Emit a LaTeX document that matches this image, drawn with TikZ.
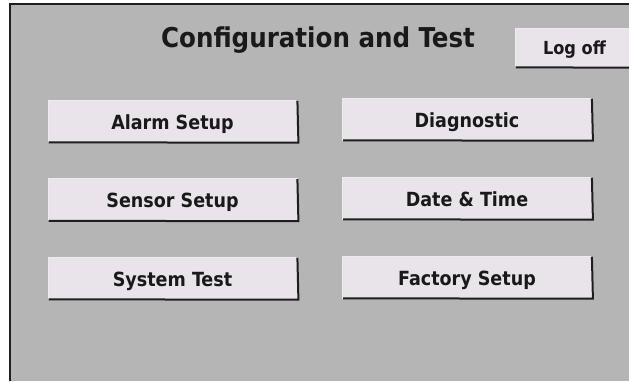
\documentclass[tikz,border=0pt]{standalone}
\usepackage{fontspec}
\setmainfont{DejaVu Sans Condensed}
\definecolor{panel}{RGB}{181,181,181}
\definecolor{btn}{RGB}{232,228,234}
\definecolor{frame}{RGB}{30,30,30}
\definecolor{shadow}{RGB}{30,30,30}
\tikzset{
  uibtn/.style={draw=white!85!gray, line width=0.8pt, fill=btn, minimum width=249pt, minimum height=42pt,
    inner sep=0pt, text height=16pt, text depth=0pt, font=\fontsize{19.5}{22}\selectfont\bfseries, text=black!90},
  shade/.style={draw=shadow, line width=2pt}
}
\newcommand{\btnshadow}[1]{\draw[shade] ([xshift=1pt]#1.south west) -- ([xshift=1pt,yshift=-0.2pt]#1.south east) -- ([yshift=-1pt]#1.north east);}
\begin{document}
\begin{tikzpicture}[x=1pt,y=-1pt]
\useasboundingbox (0,0) rectangle (629,381);
\clip (0,0) rectangle (629,381);
\fill[white] (0,0) rectangle (629,381);
\fill[panel] (9,3) rectangle (629,381);
\draw[frame, line width=1.6pt] (10,381) -- (10,3.8) -- (629,3.8);
\node[font=\fontsize{27.3}{30}\selectfont\bfseries, text=black!90, anchor=base] (title) at (318,47) {Configuration and Test};
\node[uibtn, minimum width=119pt, minimum height=39pt, text height=13pt, font=\fontsize{18}{20}\selectfont\bfseries] (logoff) at (574.5,47.5) {Log off};
\btnshadow{logoff}
\node[uibtn] (alarm) at (172.5,121) {Alarm Setup};
\node[uibtn] (diag) at (467,119) {Diagnostic};
\node[uibtn] (sensor) at (172.5,199.5) {Sensor Setup};
\node[uibtn] (date) at (467,198) {Date \& Time};
\node[uibtn] (systest) at (172.5,278) {System Test};
\node[uibtn] (factory) at (467,277) {Factory Setup};
\foreach \b in {alarm,diag,sensor,date,systest,factory} {\btnshadow{\b}}
\end{tikzpicture}
\end{document}
